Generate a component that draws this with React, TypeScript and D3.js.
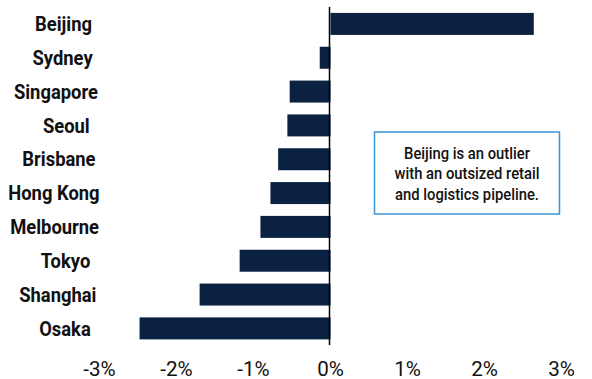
import React, { useEffect, useRef } from "react";
import * as d3 from "d3";

const cities = ["Beijing", "Sydney", "Singapore", "Seoul", "Brisbane", "Hong Kong", "Melbourne", "Tokyo", "Shanghai", "Osaka"];
const values = [2.64, -0.14, -0.53, -0.56, -0.68, -0.78, -0.91, -1.18, -1.7, -2.48];
const ticks = [-3, -2, -1, 0, 1, 2, 3];
const noteLines = ["Beijing is an outlier", "with an outsized retail", "and logistics pipeline."];

const W = 592;
const H = 379;
const FONT = "Roboto, 'Liberation Sans', sans-serif";
const NAVY = "#0b2142";

function measure(svg: any, text: string, size: number, weight: string | number) {
  const t = svg
    .append("text")
    .attr("font-family", FONT)
    .attr("font-size", size)
    .attr("font-weight", weight)
    .text(text);
  const w = (t.node() as SVGTextElement).getComputedTextLength();
  t.remove();
  return w;
}

export default function App() {
  const ref = useRef<SVGSVGElement | null>(null);

  useEffect(() => {
    const svg = d3.select(ref.current);
    svg.selectAll("*").remove();

    const x = d3.scaleLinear().domain([-3, 3]).range([99.5, 561.5]);
    const y = d3.scaleBand<string>().domain(cities).range([7, 345.3]).paddingInner(0.35).paddingOuter(0.175);

    const sLabel = 57 / measure(svg, "Beijing", 20, "bold");
    const sTick = 26.7 / measure(svg, "0%", 20, "normal");
    const sNote = 126 / measure(svg, noteLines[0], 16, 500);

    svg
      .append("g")
      .selectAll("rect")
      .data(cities)
      .join("rect")
      .attr("x", (_d, i) => x(Math.min(0, values[i])))
      .attr("width", (_d, i) => Math.abs(x(values[i]) - x(0)))
      .attr("y", (d) => y(d) as number)
      .attr("height", y.bandwidth())
      .attr("fill", NAVY);

    svg
      .append("line")
      .attr("x1", x(0) - 1)
      .attr("x2", x(0) - 1)
      .attr("y1", 7)
      .attr("y2", 345)
      .attr("stroke", "#000")
      .attr("stroke-width", 1.5);

    const labels = svg
      .append("g")
      .selectAll("text")
      .data(cities)
      .join("text")
      .attr("dy", "0.36em")
      .attr("text-anchor", "end")
      .attr("font-family", FONT)
      .attr("font-weight", "bold")
      .attr("font-size", 20)
      .attr("fill", "#111")
      .text((d) => d);
    labels.each(function (d) {
      const el = this as SVGTextElement;
      const w = el.getComputedTextLength() * sLabel;
      const cy = (y(d) as number) + y.bandwidth() / 2;
      d3.select(el).attr("transform", `translate(${79.3 + 0.222 * w},${cy}) scale(${sLabel},1)`);
    });

    svg
      .append("g")
      .selectAll("text")
      .data(ticks)
      .join("text")
      .attr("transform", (d) => `translate(${x(d)},376) scale(${sTick},1)`)
      .attr("text-anchor", "middle")
      .attr("font-family", FONT)
      .attr("font-size", 20)
      .attr("fill", "#111")
      .text((d) => `${d}%`);

    const note = svg.append("g");
    note
      .append("rect")
      .attr("x", 374.5)
      .attr("y", 132)
      .attr("width", 185)
      .attr("height", 82)
      .attr("fill", "#fff")
      .attr("stroke", "#3a93d4")
      .attr("stroke-width", 1.5);
    note
      .selectAll("text")
      .data(noteLines)
      .join("text")
      .attr("transform", (_d, i) => `translate(467,${158.5 + i * 20.5}) scale(${sNote},1)`)
      .attr("text-anchor", "middle")
      .attr("font-family", FONT)
      .attr("font-size", 16)
      .attr("font-weight", 500)
      .attr("fill", "#111")
      .text((d) => d);
  }, []);

  return (
    <svg
      ref={ref}
      width={W}
      height={H}
      style={{ position: "absolute", left: 0, top: 0, background: "#fff" }}
    />
  );
}
